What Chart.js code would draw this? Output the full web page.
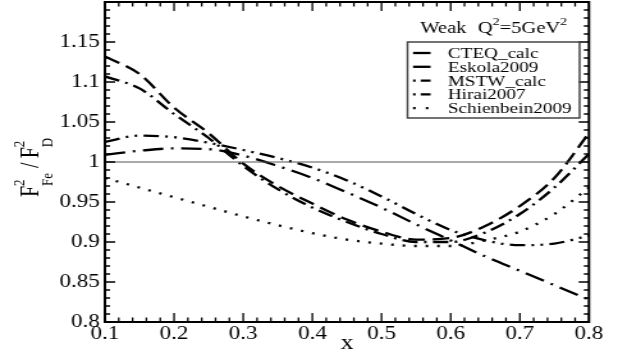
<!DOCTYPE html>
<html><head><meta charset="utf-8">
<script src="https://cdn.jsdelivr.net/npm/chart.js@4/dist/chart.umd.min.js"></script>
<style>
html,body{margin:0;padding:0;background:#fff;overflow:hidden}
#wrap{width:483px;height:356px;transform:scaleX(1.2795);transform-origin:0 0}
canvas{display:block}
</style>
</head><body><div id="wrap"><canvas id="c" width="483" height="356"></canvas></div>
<script>
// ---- data ----
const xGrid = [0.1,0.15,0.2,0.25,0.3,0.35,0.4,0.45,0.5,0.55,0.6,0.65,0.7,0.75,0.8];
const cteqCalc   = [1.132,1.11,1.068,1.036,0.998,0.970,0.948,0.928,0.913,0.903,0.905,0.920,0.945,0.980,1.036];
const eskola2009 = [1.009,1.014,1.017,1.016,1.008,0.995,0.980,0.962,0.943,0.922,0.902,0.882,0.864,0.846,0.828];
const mstwCalc   = [1.107,1.092,1.060,1.030,0.995,0.966,0.943,0.925,0.910,0.900,0.900,0.912,0.935,0.968,1.010];
const hirai2007  = [1.025,1.033,1.031,1.024,1.015,1.005,0.993,0.977,0.957,0.935,0.915,0.902,0.896,0.898,0.908];
const schienbein2009 = [0.980,0.968,0.956,0.944,0.932,0.921,0.911,0.903,0.898,0.895,0.895,0.902,0.913,0.935,0.968];
const seriesNames = ['CTEQ_calc','Eskola2009','MSTW_calc','Hirai2007','Schienbein2009'];
const xTickLabels = ['0.1','0.2','0.3','0.4','0.5','0.6','0.7','0.8'];
const yTickLabels = ['0.8','0.85','0.9','0.95','1','1.05','1.1','1.15',''];
const refLevel = 1;

const SERIF = "'Liberation Serif','DejaVu Serif',serif";
const pts = arr => xGrid.map((x,i)=>({x:x,y:arr[i]}));
const styles = [
  {dash:[13,6], ldash:[20,0]},
  {dash:[16,6,2,6], ldash:[20,0]},
  {dash:[12,5,2,5], ldash:[2,4,20,0]},
  {dash:[12,5,2,5,2,5], ldash:[2,4,20,0]},
  {dash:[2,7], ldash:[2,8]}
];
const allSeries = [cteqCalc, eskola2009, mstwCalc, hirai2007, schienbein2009];
const datasets = allSeries.map((arr,i)=>({
  label: seriesNames[i], data: pts(arr), showLine:true, pointRadius:0,
  borderColor:'#000', borderWidth:2.3, borderDash: styles[i].dash, legendDash: styles[i].ldash,
  cubicInterpolationMode:'monotone', fill:false
}));
datasets.unshift({label:'ref', data:[{x:xGrid[0],y:refLevel},{x:xGrid[xGrid.length-1],y:refLevel}],
  showLine:true, pointRadius:0, borderColor:'#555', borderWidth:1, isRef:true});

function drawRich(ctx, parts, x0, y0){
  let x = x0;
  for (const p of parts){
    if (p.stack){
      let w = 0;
      for (const s of p.stack){ ctx.font = s.size+'px '+SERIF; ctx.fillText(s.t, x, y0 + s.dy); w = Math.max(w, ctx.measureText(s.t).width); }
      x += w;
    } else {
      ctx.font = p.size + 'px ' + SERIF;
      ctx.fillText(p.t, x, y0 + (p.dy||0));
      x += ctx.measureText(p.t).width + (p.gap||0);
    }
  }
  return x;
}

const decor = {
  id:'decor',
  afterDraw(chart){
    const ctx = chart.ctx, a = chart.chartArea, xs = chart.scales.x, ys = chart.scales.y;
    ctx.save();
    ctx.strokeStyle = '#000'; ctx.lineWidth = 2;
    ctx.strokeRect(a.left, a.top, a.right-a.left, a.bottom-a.top);
    ctx.lineWidth = 1.3;
    ctx.beginPath();
    for (let i=0;i<=35;i++){
      const v = 0.1 + i*0.02, px = xs.getPixelForValue(v), len = (i%5===0)?9:4.5;
      ctx.moveTo(px,a.bottom); ctx.lineTo(px,a.bottom-len);
      ctx.moveTo(px,a.top); ctx.lineTo(px,a.top+len);
    }
    for (let i=0;i<=40;i++){
      const v = 0.8 + i*0.01, py = ys.getPixelForValue(v), len = (i%5===0)?8:4;
      ctx.moveTo(a.left,py); ctx.lineTo(a.left+len,py);
      ctx.moveTo(a.right,py); ctx.lineTo(a.right-len,py);
    }
    ctx.stroke();

    ctx.fillStyle = '#000'; ctx.textBaseline = 'alphabetic'; ctx.textAlign = 'left';
    drawRich(ctx, [
      {t:'Weak', size:16, gap:9},
      {t:'Q', size:16},
      {t:'2', size:11, dy:-8},
      {t:'=5GeV', size:16},
      {t:'2', size:11, dy:-8}
    ], 328.5, 33);

    const bx = 318.5, by = 42, bw = 134.5, bh = 76;
    ctx.strokeStyle = '#444'; ctx.lineWidth = 1.5;
    ctx.strokeRect(bx, by, bw, bh);
    const rows = chart.data.datasets.filter(d=>!d.isRef);
    rows.forEach((d,i)=>{
      const yy = 53 + i*13.8;
      ctx.strokeStyle = '#000'; ctx.lineWidth = 2.3;
      ctx.setLineDash(d.legendDash);
      ctx.beginPath(); ctx.moveTo(322.8, yy); ctx.lineTo(336.5, yy); ctx.stroke();
      ctx.setLineDash([]);
      ctx.font = '15px ' + SERIF; ctx.fillStyle = '#000';
      ctx.textBaseline = 'middle';
      ctx.fillText(d.label, 350, yy+1);
    });

    ctx.translate(30, 197);
    ctx.rotate(-Math.PI/2);
    ctx.textBaseline = 'alphabetic';
    drawRich(ctx, [
      {t:'F', size:20},
      {stack:[{t:'2', size:13, dy:-11},{t:'Fe', size:13, dy:11}]},
      {t:' /', size:20, gap:4},
      {t:'F', size:20},
      {stack:[{t:'2', size:13, dy:-11},{t:'D', size:13, dy:11}]}
    ], 0, 0);
    ctx.restore();
  }
};

new Chart(document.getElementById('c'), {
  type:'scatter',
  data:{datasets:datasets},
  options:{
    responsive:false, maintainAspectRatio:false, animation:false,
    layout:{padding:{left:0,right:22.7,top:2,bottom:0}},
    plugins:{legend:{display:false}, tooltip:{enabled:false}},
    scales:{
      x:{type:'linear', min:0.1, max:0.8,
        grid:{display:false, drawTicks:false}, border:{display:false},
        afterFit(s){ s.height = 34; s.paddingLeft = 0; s.paddingRight = 0; },
        afterBuildTicks(s){ s.ticks = xTickLabels.map(t=>({value:parseFloat(t)})); },
        ticks:{autoSkip:false, maxRotation:0, padding:1, color:'#000',
          font:{family:SERIF, size:18},
          callback:(v,i)=>xTickLabels[i]},
        title:{display:true, text:'x', color:'#000', font:{family:SERIF, size:20}, padding:{top:-8,bottom:0}}
      },
      y:{type:'linear', min:0.8, max:1.2,
        grid:{display:false, drawTicks:false}, border:{display:false},
        afterFit(s){ s.width = 82; s.paddingTop = 0; s.paddingBottom = 0; },
        afterBuildTicks(s){ s.ticks = yTickLabels.map((t,i)=>({value:0.8+i*0.05})); },
        ticks:{autoSkip:false, padding:4, color:'#000',
          font:{family:SERIF, size:18},
          callback:(v,i)=>yTickLabels[i]}
      }
    }
  },
  plugins:[decor]
});
</script>
</body></html>
